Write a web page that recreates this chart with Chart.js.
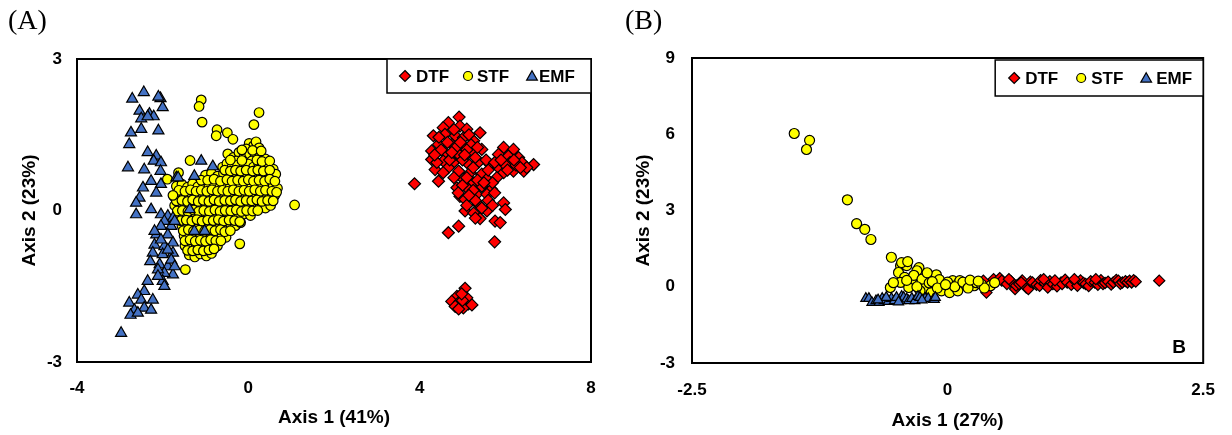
<!DOCTYPE html>
<html><head><meta charset="utf-8">
<script src="https://cdn.jsdelivr.net/npm/chart.js@4.4.1/dist/chart.umd.min.js"></script>
<style>
html,body{margin:0;padding:0;background:#fff;width:1232px;height:435px;overflow:hidden}
canvas{position:absolute;top:0}
#ca{left:0}#cb{left:616px}
</style></head><body>
<canvas id="ca" width="616" height="435"></canvas>
<canvas id="cb" width="616" height="435"></canvas>
<script>
// ---------- DATA ----------
const seriesNames = ['DTF', 'STF', 'EMF'];

// Panel A
const dtfA = [[4.92,1.85],[4.67,1.74],[4.55,1.64],[4.94,1.67],[5.10,1.61],[5.41,1.54],[4.32,1.48],[4.59,1.51],[4.83,1.48],[5.02,1.44],[5.26,1.38],[4.44,1.31],[4.75,1.31],[5.02,1.28],[5.45,1.21],[4.28,1.18],[4.59,1.15],[4.91,1.11],[5.22,1.15],[5.96,1.25],[6.19,1.21],[5.84,1.11],[6.07,1.08],[6.31,1.05],[4.28,1.01],[4.55,0.98],[4.79,0.95],[5.10,0.95],[5.37,0.95],[5.64,0.91],[6.11,0.95],[6.39,0.95],[6.66,0.91],[4.36,0.81],[4.67,0.85],[4.91,0.78],[5.18,0.75],[5.45,0.72],[5.84,0.85],[5.96,0.75],[6.19,0.78],[6.43,0.78],[5.57,0.62],[5.02,0.62],[5.26,0.55],[4.44,0.58],[3.88,0.53],[4.87,0.45],[5.14,0.42],[5.45,0.48],[5.68,0.42],[4.94,0.28],[5.33,0.32],[5.57,0.32],[5.06,0.22],[5.37,0.12],[5.96,0.15],[6.00,0.02],[5.06,-0.01],[5.26,-0.05],[5.57,-0.01],[5.41,-0.16],[5.76,-0.21],[5.88,-0.24],[4.91,-0.31],[4.67,-0.44],[5.75,-0.62],[4.50,1.20],[4.70,1.00],[5.00,1.00],[5.30,1.05],[5.20,1.30],[4.40,0.95],[5.60,0.80],[5.80,0.65],[6.00,0.90],[6.25,0.90],[6.50,0.85],[5.35,0.60],[5.70,0.55],[4.85,1.25],[5.15,1.50],[4.80,1.60],[5.00,0.50],[5.60,0.20],[5.30,0.20],[5.10,0.10],[4.45,1.45],[4.65,1.35],[4.95,1.35],[5.10,1.20],[5.35,1.25],[4.35,1.10],[4.75,1.15],[5.05,1.10],[5.55,1.00],[5.75,0.95],[5.90,1.00],[6.20,1.00],[6.35,0.85],[6.05,0.80],[5.25,0.85],[4.55,0.75],[4.80,0.65],[5.10,0.65],[5.50,0.55],[5.25,0.40],[5.75,0.35],[4.90,0.35],[5.15,0.30],[5.45,0.05],[5.70,0.10],[5.30,-0.15],[5.06,-1.54],[4.87,-1.70],[4.75,-1.80],[4.94,-1.80],[5.14,-1.85],[4.83,-1.90],[5.02,-1.93],[5.22,-1.87],[5.10,-1.73],[4.91,-1.95],[5.00,-1.78],[4.98,-1.65]];

const stfA = [[0.02,1.33],[0.12,1.28],[0.18,1.36],[-0.05,1.22],[0.25,1.24],
[-0.48,1.12],[-0.35,1.05],[-0.22,1.15],[-0.10,1.08],[0.03,1.12],[0.15,1.05],[0.28,1.10],[0.40,1.02],[-0.28,0.98],[0.08,0.98],
[-0.60,0.86],[-0.50,0.93],[-0.38,0.86],[-0.25,0.90],[-0.12,0.84],[0.00,0.92],[0.12,0.86],[0.24,0.93],[0.36,0.88],[0.48,0.90],[0.58,0.82],
[-1.00,0.70],[-0.86,0.74],[-0.72,0.68],[-0.58,0.73],[-0.45,0.66],[-0.32,0.72],[-0.20,0.65],[-0.08,0.74],[0.05,0.68],[0.17,0.72],[0.30,0.66],[0.42,0.73],[0.54,0.67],[0.64,0.72],
[-1.68,0.48],[-1.55,0.52],[-1.42,0.46],[-1.30,0.53],[-1.18,0.47],[-1.05,0.54],[-0.92,0.48],[-0.80,0.52],[-0.67,0.45],[-0.55,0.53],[-0.42,0.47],[-0.30,0.54],[-0.18,0.46],[-0.05,0.52],[0.08,0.47],[0.20,0.53],[0.33,0.46],[0.45,0.52],[0.58,0.48],[0.68,0.44],
[-1.74,0.28],[-1.62,0.33],[-1.50,0.26],[-1.38,0.32],[-1.25,0.27],[-1.12,0.34],[-1.00,0.27],[-0.88,0.33],[-0.75,0.26],[-0.62,0.32],[-0.50,0.27],[-0.38,0.34],[-0.25,0.26],[-0.12,0.32],[0.00,0.27],[0.12,0.33],[0.25,0.26],[0.38,0.32],[0.50,0.27],[0.62,0.30],
[-1.72,0.10],[-1.60,0.06],[-1.48,0.12],[-1.35,0.07],[-1.22,0.13],[-1.10,0.06],[-0.98,0.12],[-0.85,0.08],[-0.72,0.13],[-0.60,0.06],[-0.48,0.11],[-0.35,0.05],[-0.22,0.12],[-0.10,0.07],[0.02,0.13],[0.15,0.06],[0.28,0.11],[0.40,0.05],[0.52,0.10],
[-1.60,-0.08],[-1.48,-0.12],[-1.35,-0.06],[-1.22,-0.13],[-1.10,-0.07],[-0.98,-0.12],[-0.85,-0.06],[-0.72,-0.13],[-0.60,-0.07],[-0.48,-0.12],[-0.35,-0.08],[-0.22,-0.13],[-0.10,-0.07],[0.05,-0.10],
[-1.55,-0.30],[-1.42,-0.27],[-1.30,-0.33],[-1.18,-0.28],[-1.05,-0.32],[-0.92,-0.26],[-0.80,-0.33],[-0.67,-0.28],[-0.55,-0.32],[-0.42,-0.26],[-0.30,-0.30],[-0.18,-0.24],
[-1.50,-0.50],[-1.38,-0.46],[-1.25,-0.53],[-1.12,-0.47],[-1.00,-0.52],[-0.88,-0.46],[-0.75,-0.51],[-0.62,-0.47],[-0.52,-0.53],
[-1.48,-0.70],[-1.35,-0.67],[-1.22,-0.73],[-1.10,-0.68],[-0.98,-0.72],[-0.85,-0.66],[-0.72,-0.70],
[-1.38,-0.88],[-1.25,-0.92],[-1.12,-0.86],[-0.98,-0.90],[-0.86,-0.85],
[-0.15,1.20],[0.10,1.19],[0.30,1.18],
[-0.42,1.00],[-0.15,0.99],[0.20,1.00],[0.32,0.97],[0.50,0.98],
[-0.55,0.80],[-0.42,0.78],[-0.30,0.80],[-0.18,0.78],[-0.05,0.80],[0.10,0.78],[0.22,0.80],[0.35,0.78],[0.50,0.80],
[-1.10,0.60],[-0.95,0.60],[-0.80,0.62],[-0.65,0.58],[-0.50,0.61],[-0.38,0.58],[-0.25,0.60],[-0.12,0.58],[0.00,0.61],[0.12,0.58],[0.25,0.60],[0.38,0.58],[0.50,0.62],[0.62,0.58],
[-1.62,0.40],[-1.48,0.38],[-1.35,0.41],[-1.22,0.38],[-1.10,0.40],[-0.97,0.38],[-0.85,0.41],[-0.72,0.38],[-0.60,0.40],[-0.48,0.38],[-0.35,0.41],[-0.22,0.38],[-0.10,0.40],[0.02,0.38],[0.15,0.41],[0.28,0.38],[0.40,0.40],[0.55,0.38],[0.66,0.36],
[-1.68,0.19],[-1.55,0.20],[-1.42,0.18],[-1.30,0.21],[-1.17,0.18],[-1.05,0.20],[-0.92,0.18],[-0.80,0.21],[-0.68,0.18],[-0.55,0.20],[-0.42,0.19],[-0.30,0.21],[-0.18,0.18],[-0.05,0.20],[0.08,0.19],[0.20,0.21],[0.32,0.18],[0.45,0.20],[0.58,0.19],
[-1.66,-0.01],[-1.54,0.00],[-1.41,-0.02],[-1.28,0.01],[-1.16,-0.02],[-1.04,0.00],[-0.91,-0.02],[-0.78,0.01],[-0.66,-0.02],[-0.54,0.00],[-0.41,-0.01],[-0.28,0.01],[-0.16,-0.02],[-0.04,0.00],[0.10,-0.01],[0.22,0.00],
[-1.58,-0.20],[-1.45,-0.19],[-1.32,-0.21],[-1.20,-0.18],[-1.08,-0.21],[-0.95,-0.19],[-0.82,-0.20],[-0.70,-0.18],[-0.58,-0.21],[-0.45,-0.19],[-0.32,-0.20],[-0.20,-0.22],
[-1.52,-0.40],[-1.40,-0.38],[-1.28,-0.41],[-1.15,-0.39],[-1.02,-0.41],[-0.90,-0.38],[-0.78,-0.40],[-0.65,-0.38],[-0.55,-0.42],[-0.42,-0.40],
[-1.48,-0.60],[-1.36,-0.58],[-1.24,-0.61],[-1.12,-0.59],[-1.00,-0.61],[-0.88,-0.58],[-0.76,-0.60],[-0.64,-0.60],
[-1.42,-0.79],[-1.30,-0.80],[-1.18,-0.78],[-1.05,-0.80],[-0.92,-0.78],[-0.80,-0.76],
[-1.10,2.19],[-1.15,2.06],[-1.08,1.75],[-0.73,1.60],[-0.75,1.48],[-0.49,1.54],[-0.36,1.41],[0.25,1.94],[0.13,1.70],[1.08,0.11],[-0.20,-0.66],[-1.47,-1.17],[-1.36,0.99],[-1.63,0.75],[-1.89,0.62],[-1.76,0.30]];

const emfA = [[-2.44,2.34],[-2.71,2.21],[-2.05,2.22],[-2.00,2.04],[-2.54,1.97],[-2.31,1.91],[-2.50,1.82],[-2.21,1.86],[-2.10,2.25],[-2.35,1.86],[-2.74,1.54],[-2.50,1.61],[-2.10,1.58],[-2.78,1.31],[-2.35,1.15],[-2.15,1.08],[-2.21,0.98],[-2.04,0.95],[-2.81,0.85],[-2.43,0.81],[-2.05,0.78],[-1.68,0.65],[-1.10,0.98],[-0.83,0.87],[-1.26,0.68],[-2.27,0.58],[-2.04,0.52],[-2.46,0.45],[-2.15,0.35],[-2.54,0.25],[-2.62,0.15],[-2.62,-0.08],[-2.27,0.02],[-2.04,-0.08],[-1.88,-0.11],[-1.76,-0.15],[-1.96,-0.21],[-1.37,0.02],[-2.04,-0.31],[-1.80,-0.31],[-2.15,-0.48],[-1.88,-0.48],[-1.26,-0.41],[-1.02,-0.41],[-1.76,-0.64],[-2.19,-0.68],[-1.96,-0.71],[-2.23,-0.84],[-2.00,-0.87],[-1.76,-0.84],[-2.29,-1.01],[-2.07,-1.07],[-1.88,-1.11],[-1.76,-1.27],[-1.96,-1.24],[-2.11,-1.17],[-2.00,-1.40],[-2.35,-1.40],[-2.43,-1.60],[-2.58,-1.67],[-2.23,-1.77],[-2.78,-1.83],[-2.50,-1.77],[-2.66,-1.97],[-2.43,-1.93],[-2.27,-1.97],[-2.75,-2.07],[-2.58,-2.03],[-2.97,-2.43],[-1.72,-0.21],[-1.64,0.65],[-2.19,-0.41],[-1.80,-0.98],[-1.72,-1.11],[-2.04,-0.58],[-1.88,-0.78],[-2.11,-1.30],[-1.96,-1.50]];

// Panel B
const dtfB = [[0.35,0.24],[0.38,-0.23],[0.45,0.30],[0.51,0.34],[0.53,0.24],[0.58,0.11],[0.62,0.22],[0.66,-0.09],[0.67,0.05],[0.70,0.11],[0.73,0.25],[0.77,-0.03],[0.79,-0.09],[0.81,0.20],[0.83,0.17],[0.87,0.08],[0.90,0.04],[0.91,0.26],[0.95,0.14],[0.98,-0.03],[1.00,0.22],[1.03,0.11],[1.07,0.02],[1.11,0.17],[1.12,0.11],[1.15,0.28],[1.17,0.17],[1.21,0.08],[1.25,0.21],[1.27,0.04],[1.30,0.25],[1.33,0.15],[1.35,0.11],[1.38,0.03],[1.40,0.22],[1.44,0.17],[1.47,0.08],[1.50,0.26],[1.52,0.11],[1.54,0.15],[1.57,0.20],[1.60,0.09],[1.62,0.17],[1.65,0.27],[1.67,0.24],[1.69,0.12],[1.71,0.17],[1.74,0.22],[1.76,0.17],[1.78,0.24],[1.80,0.17],[1.82,0.26],[1.84,0.20],[2.07,0.24],[0.60,0.30],[0.94,0.30],[1.24,0.30],[0.72,0.17],[1.05,0.25],[1.45,0.30]];

const stfB = [[-1.50,6.03],[-1.35,5.76],[-1.38,5.40],[-0.98,3.42],[-0.89,2.48],[-0.81,2.26],[-0.75,1.86],[-0.55,1.16],[-0.46,0.83],[-0.40,0.83],[-0.45,0.95],[-0.39,0.99],[-0.28,0.75],[-0.48,0.56],[-0.30,0.63],[-0.42,0.37],[-0.46,0.17],[-0.35,0.17],[-0.27,0.11],[-0.21,0.24],[-0.13,0.37],[-0.11,0.47],[-0.56,-0.03],[-0.38,-0.03],[-0.22,-0.03],[-0.13,0.04],[-0.05,0.11],[0.03,0.04],[0.05,0.24],[0.10,0.11],[0.12,0.24],[0.18,0.04],[0.26,0.04],[0.28,0.16],[0.42,0.04],[0.46,0.16],[-0.06,-0.16],[0.02,-0.23],[0.10,-0.16],[-0.27,-0.16],[-0.16,-0.23],[-0.53,0.16],[-0.33,0.45],[-0.25,0.30],[-0.18,0.15],[-0.08,0.28],[0.00,0.18],[0.07,0.00],[0.15,0.18],[0.20,-0.05],[0.33,0.10],[0.36,-0.05],[-0.30,0.00],[-0.40,0.25],[-0.20,0.55],[-0.15,0.20],[-0.10,-0.05],[-0.02,0.08],[0.22,0.26],[0.30,0.22]];

const emfB = [[-0.80,-0.46],[-0.77,-0.46],[-0.74,-0.62],[-0.70,-0.55],[-0.67,-0.62],[-0.64,-0.46],[-0.62,-0.55],[-0.58,-0.58],[-0.55,-0.46],[-0.52,-0.55],[-0.46,-0.55],[-0.45,-0.38],[-0.43,-0.42],[-0.40,-0.48],[-0.38,-0.55],[-0.35,-0.46],[-0.32,-0.55],[-0.29,-0.38],[-0.27,-0.42],[-0.22,-0.46],[-0.19,-0.46],[-0.14,-0.50],[-0.13,-0.50],[-0.12,-0.42],[-0.60,-0.42],[-0.68,-0.52],[-0.50,-0.42],[-0.48,-0.60],[-0.25,-0.52]];

const xTicksA = [-4, 0, 4, 8];
const yTicksA = [-3, 0, 3];
const xTicksB = [-2.5, 0, 2.5];
const yTicksB = [-3, 0, 3, 6, 9];

// ---------- STYLE ----------
const SANS = '"Liberation Sans", Arial, Helvetica, sans-serif';
const SERIF = '"Liberation Serif", "Times New Roman", serif';
const styles = [
  {style:'rectRot', color:'#FF0000'},
  {style:'circle', color:'#FFFF00'},
  {style:'triangle', color:'#4472C4'}
];

function drawMarker(ctx, style, x, y, r, fill) {
  ctx.beginPath();
  if (style === 'circle') ctx.arc(x, y, r, 0, Math.PI * 2);
  else if (style === 'rectRot') { ctx.moveTo(x, y - r); ctx.lineTo(x + r, y); ctx.lineTo(x, y + r); ctx.lineTo(x - r, y); ctx.closePath(); }
  else { ctx.moveTo(x, y - r); ctx.lineTo(x + r * 0.866, y + r * 0.5); ctx.lineTo(x - r * 0.866, y + r * 0.5); ctx.closePath(); }
  ctx.fillStyle = fill; ctx.fill();
  ctx.lineWidth = 1.2; ctx.strokeStyle = '#000'; ctx.stroke();
}

function makeChart(id, p) {
  const deco = {
    id: 'deco',
    afterDatasetsDraw(chart) {
      const ctx = chart.ctx, a = chart.chartArea;
      ctx.save();
      ctx.lineWidth = 2; ctx.strokeStyle = '#000';
      ctx.strokeRect(a.left, a.top, a.right - a.left, a.bottom - a.top);
      const L = p.legend;
      const bx = a.right - L.w, by = a.top + L.dy;
      ctx.fillStyle = '#fff'; ctx.fillRect(bx, by, L.w, L.h);
      ctx.lineWidth = 1.5; ctx.strokeRect(bx, by, L.w, L.h);
      ctx.font = 'bold 17px ' + SANS; ctx.textBaseline = 'middle'; ctx.textAlign = 'left';
      seriesNames.forEach((n, i) => {
        const mx = bx + L.items[i][0], tx = bx + L.items[i][1], cy = by + L.h / 2;
        drawMarker(ctx, styles[i].style, mx, cy + (i === 2 ? 1 : 0), L.r[i], styles[i].color);
        ctx.fillStyle = '#000'; ctx.fillText(n, tx, cy + 1);
      });
      ctx.font = '28px ' + SERIF; ctx.fillStyle = '#000'; ctx.textBaseline = 'middle';
      ctx.fillText(p.panel, p.panelX, 22);
      if (p.inner) {
        ctx.font = 'bold 19px ' + SANS; ctx.textAlign = 'center';
        ctx.fillText(p.inner, a.right - 24, a.bottom - 15);
      }
      ctx.restore();
    }
  };
  const font = {family: SANS, weight: 'bold', size: 17};
  const tfont = {family: SANS, weight: 'bold', size: 19};
  const mk = (arr, i, r) => ({
    label: seriesNames[i],
    data: arr.map(([x, y]) => ({x, y})),
    pointStyle: styles[i].style,
    pointRadius: r, pointHoverRadius: r,
    backgroundColor: styles[i].color, pointBackgroundColor: styles[i].color,
    borderColor: '#000', pointBorderColor: '#000',
    borderWidth: 1.2, pointBorderWidth: 1.2,
    showLine: false,
    order: 2 - i
  });
  return new Chart(document.getElementById(id), {
    type: 'scatter',
    data: { datasets: [mk(p.d[0], 0, p.r[0]), mk(p.d[1], 1, p.r[1]), mk(p.d[2], 2, p.r[2])] },
    options: {
      responsive: false, animation: false, devicePixelRatio: 1, events: [],
      layout: { padding: { top: p.area.top, right: 616 - p.area.right, left: 0, bottom: 0 } },
      plugins: { legend: { display: false }, tooltip: { enabled: false } },
      scales: {
        x: {
          type: 'linear', min: p.xt[0], max: p.xt[p.xt.length - 1],
          afterBuildTicks: s => { s.ticks = p.xt.map(v => ({value: v})); },
          afterFit: s => { s.height = 435 - p.area.bottom; },
          grid: { display: false, drawTicks: false }, border: { display: false },
          ticks: { padding: p.xpad, font, color: '#000', maxRotation: 0, autoSkip: false, callback: v => String(v) },
          title: { display: true, text: p.xtitle, font: tfont, color: '#000', padding: { top: 0, bottom: p.xtb } }
        },
        y: {
          type: 'linear', min: p.yt[0], max: p.yt[p.yt.length - 1],
          afterBuildTicks: s => { s.ticks = p.yt.map(v => ({value: v})); },
          afterFit: s => { s.width = p.area.left; },
          grid: { display: false, drawTicks: false }, border: { display: false },
          ticks: { padding: p.ypad, font, color: '#000', autoSkip: false, callback: v => String(v) },
          title: { display: true, text: 'Axis 2 (23%)', font: tfont, color: '#000', padding: { top: p.ytl, bottom: 0 } }
        }
      }
    },
    plugins: [deco]
  });
}

makeChart('ca', {
  d: [dtfA, stfA, emfA], r: [6.0, 4.8, 6.4],
  xt: xTicksA, yt: yTicksA,
  area: {left: 77, right: 591, top: 59, bottom: 362},
  xpad: 16, ypad: 15, xtb: 6, ytl: 18,
  xtitle: 'Axis 1 (41%)', panel: '(A)', panelX: 8,
  legend: {w: 204, h: 34, dy: 0, r: [5.5, 4.5, 6.2], items: [[18, 29], [81, 90], [145, 152]]}
});
makeChart('cb', {
  d: [dtfB, stfB, emfB], r: [5.6, 5.0, 5.8],
  xt: xTicksB, yt: yTicksB,
  area: {left: 76, right: 595, top: 58, bottom: 363},
  xpad: 17, ypad: 17, xtb: 3, ytl: 16,
  xtitle: 'Axis 1 (27%)', panel: '(B)', panelX: 9, inner: 'B',
  legend: {w: 208, h: 36, dy: 2, r: [5.5, 4.5, 6.2], items: [[19, 30], [86, 96], [151, 161]]}
});
</script>
</body></html>
